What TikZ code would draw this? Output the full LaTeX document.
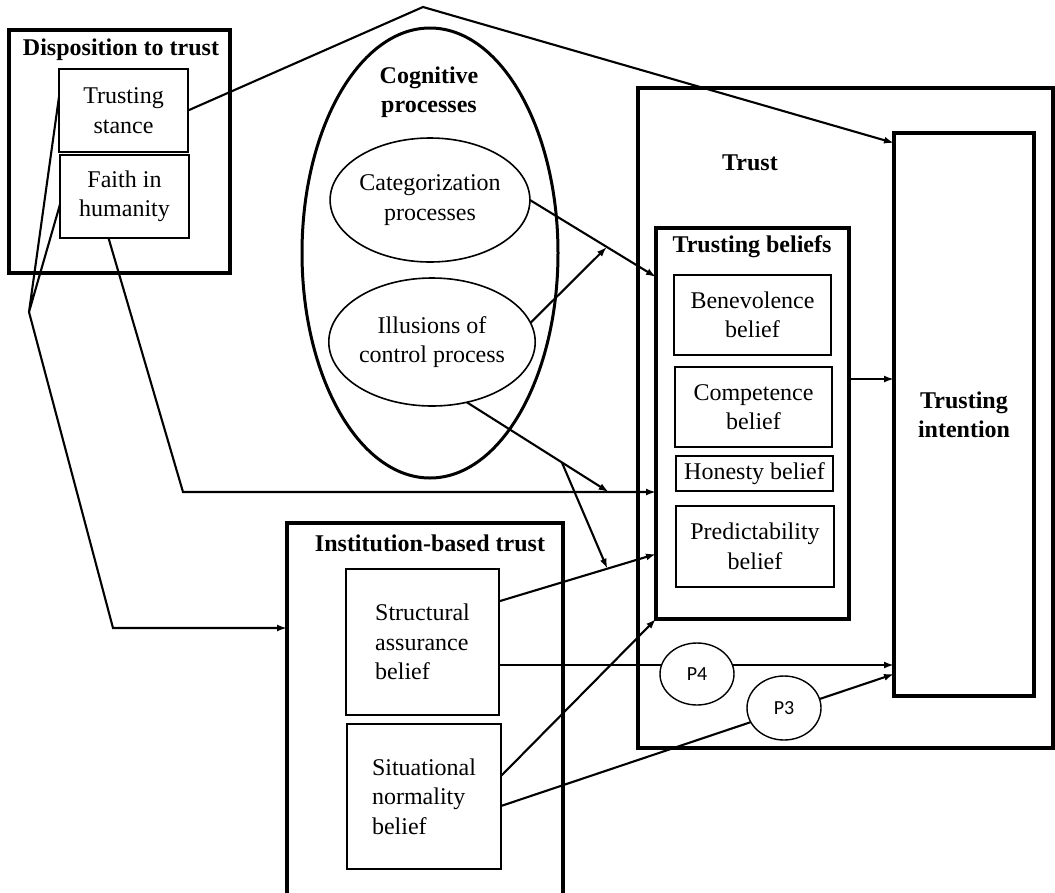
\documentclass[tikz,border=0pt]{standalone}
\usepackage{fontspec}
\setmainfont{Liberation Serif}
\newfontfamily\labelsans{Carlito}
\usetikzlibrary{arrows.meta,shapes.geometric,calc}

\begin{document}
\begin{tikzpicture}[x=1pt,y=-1pt,
  every node/.style={inner sep=0pt, outer sep=0pt, align=center,
    font=\fontsize{24}{29.5}\selectfont},
  heavybox/.style={draw, rectangle, line width=3.2pt},
  lightbox/.style={draw, rectangle, line width=1.8pt},
  heading/.style={font=\fontsize{24}{29}\selectfont\bfseries},
  conn/.style={line width=2.1pt, line join=miter},
  arr/.style={conn, -{Latex[length=10pt,width=7pt]}},
  pbubble/.style={draw, ellipse, fill=white, line width=1.4pt,
    font=\fontsize{20}{24}\labelsans},
]
\useasboundingbox (0,0) rectangle (1055,892);
\clip (0,0) rectangle (1055,892);

% Disposition to trust
\node[heavybox, minimum width=221pt, minimum height=243pt] (disp) at (119.5,151.5) {};
\node[heading] (dispT) at (121,50) {Disposition to trust};
\node[lightbox, minimum width=129pt, minimum height=83pt] (stance) at (123.5,110.5) {Trusting\\stance};
\node[lightbox, minimum width=129pt, minimum height=83pt] (faith) at (124.5,196.5) {Faith in\\humanity};

% Cognitive processes
\node[draw, ellipse, line width=3pt, minimum width=256pt, minimum height=450pt] (cog) at (430,253) {};
\node[heading] (cogT) at (429,92) {Cognitive\\processes};
\node[draw, ellipse, line width=1.6pt, minimum width=195pt, minimum height=124pt] (cat) at (430,200) {Categorization\\processes};
\node[draw, ellipse, line width=1.6pt, minimum width=192pt, minimum height=128pt] (ill) at (432,342) {Illusions of\\control process};

% Trust
\node[heavybox, minimum width=415pt, minimum height=660pt] (trust) at (845.5,418) {};
\node[heading] (trustT) at (750,163) {Trust};
\node[heavybox, minimum width=193pt, minimum height=391pt] (tb) at (752.5,423.5) {};
\node[heading] (tbT) at (752,247) {Trusting beliefs};
\node[lightbox, minimum width=157pt, minimum height=80pt] (ben) at (752.5,315) {Benevolence\\belief};
\node[lightbox, minimum width=157pt, minimum height=80pt] (comp) at (753.5,407) {Competence\\belief};
\node[lightbox, minimum width=157pt, minimum height=35pt] (hon) at (754.5,473.5) {Honesty belief};
\node[lightbox, minimum width=158pt, minimum height=81pt] (pred) at (755,546.5) {Predictability\\belief};
\node[heavybox, heading, minimum width=140pt, minimum height=563pt] (ti) at (964,414.5) {Trusting\\intention};

% Institution-based trust
\node[heavybox, anchor=north west, minimum width=276pt, minimum height=400pt] (inst) at (287,523) {};
\node[heading] (instT) at (430,543) {Institution-based trust};
\node[lightbox, align=left, minimum width=153pt, minimum height=146pt] (struct) at (422.5,642) {Structural\\assurance\\belief};
\node[lightbox, align=left, minimum width=154pt, minimum height=145pt] (sit) at (424,796.5) {Situational\\normality\\belief};

% Bend points and junctions
\coordinate (conv) at (29,312);
\coordinate (apex) at (423,7);
\coordinate (k1) at (113,628);
\coordinate (k2) at (183,492);
\coordinate (faithOut) at ($(faith.south)+(-16,0)$);
\coordinate (catIn) at ($(tb.north west)+(0,49)$);
\coordinate (m1) at ($(cat.east)!0.61!(catIn)$);
\coordinate (m2) at ($(k2)!0.9!(k2 -| tb.west)$);
\coordinate (saIn) at ($(tb.south west)+(0,-65)$);
\coordinate (m3) at ($(struct.28)!0.69!(saIn)$);
\coordinate (b1) at ($(ill.-60)!0.67!(m2)$);
\coordinate (tbOut) at ($(tb.east)+(0,-44.5)$);
\coordinate (saOut) at ($(struct.east)+(0,23)$);
\coordinate (snOut) at ($(sit.east)+(0,9.5)$);

% Connectors
\draw[conn] (stance.168) -- (conv) -- (faith.187);
\draw[arr] (conv) -- (k1) -- (k1 -| inst.west);
\draw[arr] (stance.east) -- (apex) -- ($(ti.north west)+(0,10)$);
\draw[arr] (faithOut) -- (k2) -- (k2 -| tb.west);
\draw[arr] (cat.east) -- (catIn);
\draw[arr] (ill.11) -- (m1);
\draw[arr] (struct.28) -- (saIn);
\draw[arr] (ill.-60) -- (m2);
\draw[arr] (b1) -- (m3);
\draw[arr] ($(sit.east)+(0,-20.5)$) -- (tb.south west);
\draw[arr] (tbOut) -- (tbOut -| ti.west);
\draw[arr] (saOut) -- (saOut -| ti.west);
\draw[arr] (snOut) -- ($(ti.south west)+(0,-22)$);

% Proposition labels
\node[pbubble, minimum width=74pt, minimum height=62pt] (p4) at (697,674) {P4};
\node[pbubble, minimum width=74pt, minimum height=64pt] (p3) at (784,708) {P3};
\end{tikzpicture}
\end{document}
